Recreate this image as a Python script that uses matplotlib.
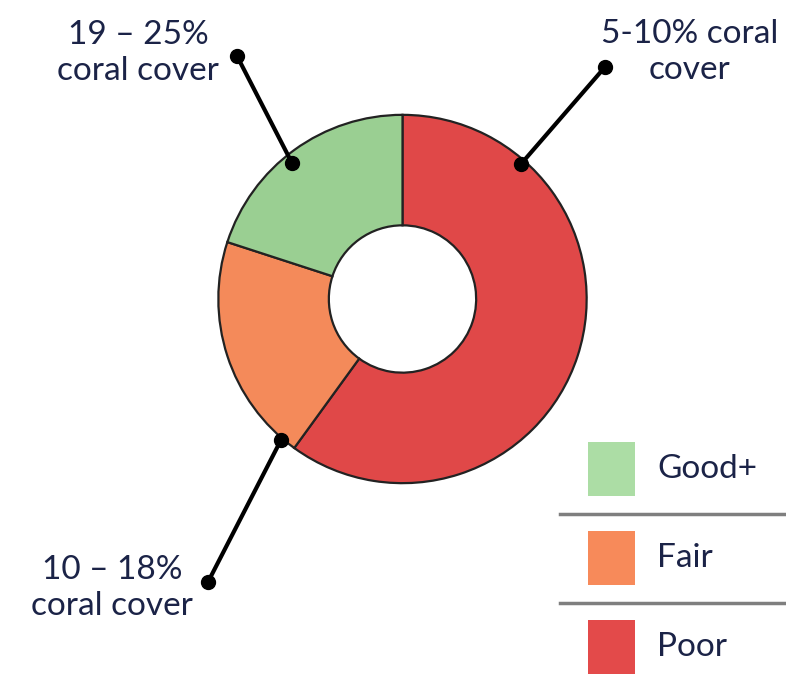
import matplotlib.pyplot as plt

categories = ["Poor", "Fair", "Good+"]
shares = [60, 20, 20]
slice_colors = ["#E04848", "#F48A5A", "#9ACF92"]
key_colors = ["#E34A4A", "#F78A5A", "#ACDDA5"]
cover_labels = ["5-10% coral\ncover", "10 \u2013 18%\ncoral cover", "19 \u2013 25%\ncoral cover"]

W, H = 786, 689
plt.rcParams['font.family'] = ['Lato', 'DejaVu Sans']
text_col = "#1B2347"

fig = plt.figure(figsize=(W / 100, H / 100), dpi=100)

# donut
cx, cy, r = 402.5, 299, 186
ax = fig.add_axes([(cx - r) / W, 1 - (cy + r) / H, 2 * r / W, 2 * r / H])
ax.pie(shares, colors=slice_colors, startangle=90, counterclock=False, radius=1,
       wedgeprops=dict(width=0.6, edgecolor="#222222", linewidth=1.6))
ax.set_xlim(-1.01, 1.01)
ax.set_ylim(-1.01, 1.01)
ax.set_aspect("equal")
ax.axis("off")

# overlay in pixel coordinates for callouts and key
ov = fig.add_axes([0, 0, 1, 1])
ov.set_xlim(0, W)
ov.set_ylim(H, 0)
ov.axis("off")
ov.patch.set_alpha(0)

leaders = [((521, 164), (605, 67)), ((281, 440), (208, 582)), ((292, 163), (237, 56))]
label_pos = [(690, 52), (112, 588), (138, 53)]
for (p0, p1), pos, lab in zip(leaders, label_pos, cover_labels):
    ov.plot([p0[0], p1[0]], [p0[1], p1[1]], color="black", lw=3, solid_capstyle="round")
    ov.plot([p0[0], p1[0]], [p0[1], p1[1]], "o", color="black", ms=10)
    ov.text(pos[0], pos[1], lab, ha="center", va="center", fontsize=24, color=text_col,
            linespacing=1.25)

# key
rows_y = [647, 558, 469]
for cat, col, y in zip(categories, key_colors, rows_y):
    ov.add_patch(plt.Rectangle((588, y - 27), 47, 54, color=col, lw=0))
    ov.text(657, y, cat, ha="left", va="center", fontsize=24, color=text_col)
for y in [514, 603]:
    ov.plot([560, 786], [y, y], color="#7F7F7F", lw=2.5)

fig.savefig("out.png", dpi=100)
